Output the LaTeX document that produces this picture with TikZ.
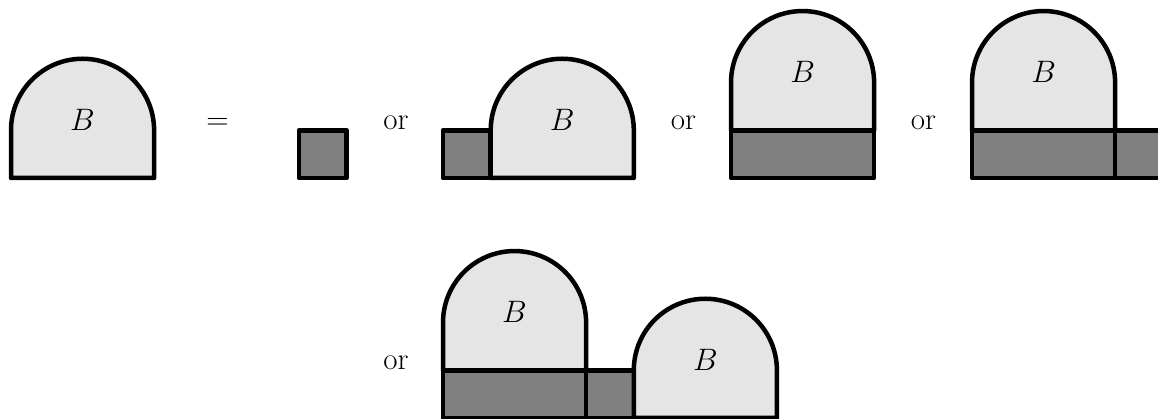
\RequirePackage{fix-cm}
\documentclass[tikz,border=0pt]{standalone}
\begin{document}
\begin{tikzpicture}[x=1pt,y=1pt,
  shape line/.style={draw=black, line width=4.5pt, line join=round},
  lightpart/.style={shape line, fill=black!10},
  darkpart/.style={shape line, fill=black!50},
  lbl/.style={font=\fontsize{31}{37}\selectfont, inner sep=0pt, anchor=base},
]
\useasboundingbox (0,0) rectangle (1158,419);
\def\u{47.7}
\def\r{71.55pt}
\newcommand\archshape[2]{%
  \path[lightpart] (#1,#2) -- ++(0,\u) arc[start angle=180,end angle=0,radius=\r] -- ++(0,-\u) -- cycle;}
% first row
\archshape{11}{241}
\node[lbl] (b1) at (82.55,288.7) {$B$};
\node[lbl] (eq) at (217.5,289) {$=$};
\path[darkpart] (299,241) rectangle (346.7,288.7);
\node[lbl] (or1) at (396,289) {or};
% group 2
\path[darkpart] (443,241) rectangle (490.7,288.7);
\archshape{490.7}{241}
\node[lbl] (b2) at (562.25,288.7) {$B$};
\node[lbl] (or2) at (683.5,289) {or};
% group 3
\path[darkpart] (731,241) rectangle (874.1,288.7);
\archshape{731}{288.7}
\node[lbl] (b3) at (802.55,336.4) {$B$};
\node[lbl] (or3) at (923.5,289) {or};
% group 4
\path[darkpart] (972,241) rectangle (1115.1,288.7);
\path[darkpart] (1115.1,241) rectangle (1162.8,288.7);
\archshape{972}{288.7}
\node[lbl] (b4) at (1043.55,336.4) {$B$};
% second row
\node[lbl] (or4) at (396,49) {or};
\path[darkpart] (443,1) rectangle (586.1,48.7);
\path[darkpart] (586.1,1) rectangle (633.8,48.7);
\archshape{443}{48.7}
\node[lbl] (b5) at (514.55,96.4) {$B$};
\archshape{633.8}{1}
\node[lbl] (b6) at (705.35,48.7) {$B$};
\end{tikzpicture}
\end{document}
